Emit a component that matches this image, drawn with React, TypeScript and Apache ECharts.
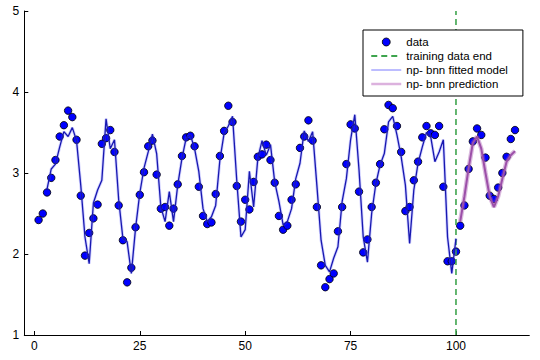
import React, { useEffect, useRef } from "react";
import * as echarts from "echarts";

// observed data, x = 1..114
const dataY = [
  2.42, 2.5, 2.76, 2.94, 3.16, 3.45, 3.59, 3.77, 3.69, 3.41,
  2.72, 1.98, 2.26, 2.44, 2.61, 3.36, 3.43, 3.53, 3.26, 2.6,
  2.17, 1.65, 1.83, 2.33, 2.73, 3.01, 3.33, 3.4, 2.98, 2.56,
  2.58, 2.35, 2.56, 2.86, 3.21, 3.44, 3.46, 3.33, 2.83, 2.47,
  2.37, 2.39, 2.74, 3.21, 3.52, 3.83, 3.63, 2.84, 2.4, 2.67,
  2.55, 2.89, 3.2, 3.23, 3.35, 3.16, 2.88, 2.47, 2.3, 2.35,
  2.67, 2.86, 3.31, 3.45, 3.65, 3.4, 2.58, 1.86, 1.59, 1.69,
  1.76, 2.28, 2.58, 3.11, 3.6, 3.55, 2.77, 2.02, 2.18, 2.58,
  2.88, 3.11, 3.54, 3.84, 3.8, 3.58, 3.26, 2.53, 2.58, 2.91,
  3.14, 3.44, 3.58, 3.49, 3.47, 3.58, 2.83, 1.91, 1.91, 2.03,
  2.35, 2.6, 3.05, 3.39, 3.55, 3.47, 3.19, 2.72, 2.68, 2.82,
  3.0, 3.2, 3.42, 3.53,
];
const dataStartX = 1;

// fitted model, x = 3..100
const fittedStartX = 3;
const fittedY = [
  2.8, 3.05, 3.11, 3.32, 3.51, 3.45, 3.56, 3.4,
  2.85, 2.21, 1.88, 2.63, 2.79, 2.91, 3.67, 3.3, 3.41, 2.67,
  2.19, 2.15, 1.76, 2.32, 2.75, 3.06, 3.26, 3.48, 3.24, 2.58,
  2.4, 2.77, 2.4, 2.85, 3.18, 3.43, 3.47, 3.3, 3.02, 2.56,
  2.4, 2.46, 2.6, 3.16, 3.49, 3.58, 3.7, 2.91, 2.21, 2.3,
  3.02, 2.58, 3.18, 3.4, 3.22, 3.35, 2.89, 2.65, 2.36, 2.4,
  2.56, 2.93, 3.12, 3.52, 3.39, 3.51, 2.85, 2.17, 1.86, 1.78,
  1.95, 2.09, 2.65, 2.93, 3.41, 3.72, 3.04, 2.21, 1.9, 2.5,
  2.87, 3.1, 3.24, 3.63, 3.7, 3.47, 3.2, 2.85, 2.13, 2.79,
  3.12, 3.32, 3.5, 3.45, 3.14, 3.26, 3.41, 2.21, 1.76, 2.19,
];

// prediction, x = 101..114
const predStartX = 101;
const predY = [2.4, 2.71, 3.06, 3.37, 3.45, 3.3, 3.0, 2.71, 2.58, 2.71, 2.93, 3.14, 3.22, 3.27];

const trainingEndX = 100;
const yRange = [1, 5];
const xRange = [-2.39, 117.39];
const xTicks = [0, 25, 50, 75, 100];

const toPairs = (start: number, ys: number[]) => ys.map((y, i) => [start + i, y]);

export default function App() {
  const ref = useRef<HTMLDivElement>(null);
  useEffect(() => {
    if (!ref.current) return;
    const chart = echarts.init(ref.current, null, { renderer: "svg" });
    const font = "'Liberation Sans', Arial, Helvetica, sans-serif";
    const hiddenSymbol = { opacity: 0, color: "transparent", borderWidth: 0 };
    chart.setOption({
      animation: false,
      backgroundColor: "#fff",
      grid: { left: 24.3, right: 10.7, top: 11, bottom: 25, containLabel: false },
      xAxis: {
        type: "value",
        min: xRange[0],
        max: xRange[1],
        axisLine: { show: true, onZero: false, lineStyle: { color: "#000", width: 1 } },
        axisTick: { show: true, inside: true, length: 4, customValues: xTicks, lineStyle: { color: "#000" } },
        axisLabel: { customValues: xTicks, color: "#000", fontSize: 12, fontFamily: font, margin: 5 },
        splitLine: { show: false },
      },
      yAxis: {
        type: "value",
        min: yRange[0],
        max: yRange[1],
        interval: 1,
        axisLine: { show: true, onZero: false, lineStyle: { color: "#000", width: 1 } },
        axisTick: { show: true, inside: true, length: 4, lineStyle: { color: "#000" } },
        axisLabel: { color: "#000", fontSize: 12, fontFamily: font, margin: 5 },
        splitLine: { show: false },
      },
      legend: {
        orient: "vertical",
        left: 363,
        top: 30,
        padding: [5, 15, 5, 7],
        itemWidth: 30,
        itemHeight: 8,
        itemGap: 0,
        backgroundColor: "#fff",
        borderColor: "#000",
        borderWidth: 1,
        borderRadius: 0,
        textStyle: { color: "#000", fontSize: 11.5, fontFamily: font, lineHeight: 14 },
        data: [
          { name: "data", icon: "circle", itemStyle: { color: "#0000ff", borderColor: "#000", borderWidth: 0.8 } },
          { name: "training data end", itemStyle: hiddenSymbol },
          { name: "np- bnn fitted model", itemStyle: hiddenSymbol, lineStyle: { color: "#7b7bff", width: 1 } },
          { name: "np- bnn prediction", itemStyle: hiddenSymbol, lineStyle: { color: "#dcb2de", width: 2.5 } },
        ],
      },
      series: [
        {
          name: "data",
          type: "scatter",
          data: toPairs(dataStartX, dataY),
          symbolSize: 7.5,
          itemStyle: { color: "#0000ff", borderColor: "#000", borderWidth: 0.8, opacity: 1 },
          z: 2,
        },
        {
          name: "training data end",
          type: "line",
          data: [[trainingEndX, yRange[0]], [trainingEndX, yRange[1]]],
          symbol: "none",
          itemStyle: { color: "#3ea44e" },
          lineStyle: { color: "#3ea44e", width: 1.6, type: [6, 4] },
          z: 3,
        },
        {
          name: "fitted glow",
          type: "line",
          data: toPairs(fittedStartX, fittedY),
          symbol: "none",
          lineStyle: { color: "rgba(70,70,255,0.25)", width: 3 },
          z: 4,
        },
        {
          name: "np- bnn fitted model",
          type: "line",
          data: toPairs(fittedStartX, fittedY),
          symbol: "none",
          itemStyle: { color: "#1818b0" },
          lineStyle: { color: "#1818b0", width: 1.3 },
          z: 5,
        },
        {
          name: "prediction glow",
          type: "line",
          data: toPairs(predStartX, predY),
          symbol: "none",
          lineStyle: { color: "rgba(165,85,175,0.4)", width: 4.5 },
          z: 6,
        },
        {
          name: "np- bnn prediction",
          type: "line",
          data: toPairs(predStartX, predY),
          symbol: "none",
          itemStyle: { color: "#9c4fa8" },
          lineStyle: { color: "#9c4fa8", width: 2 },
          z: 7,
        },
      ],
    });
    return () => chart.dispose();
  }, []);
  return (
    <div
      ref={ref}
      style={{ position: "absolute", left: 0, top: 0, width: 540, height: 360 }}
    />
  );
}
